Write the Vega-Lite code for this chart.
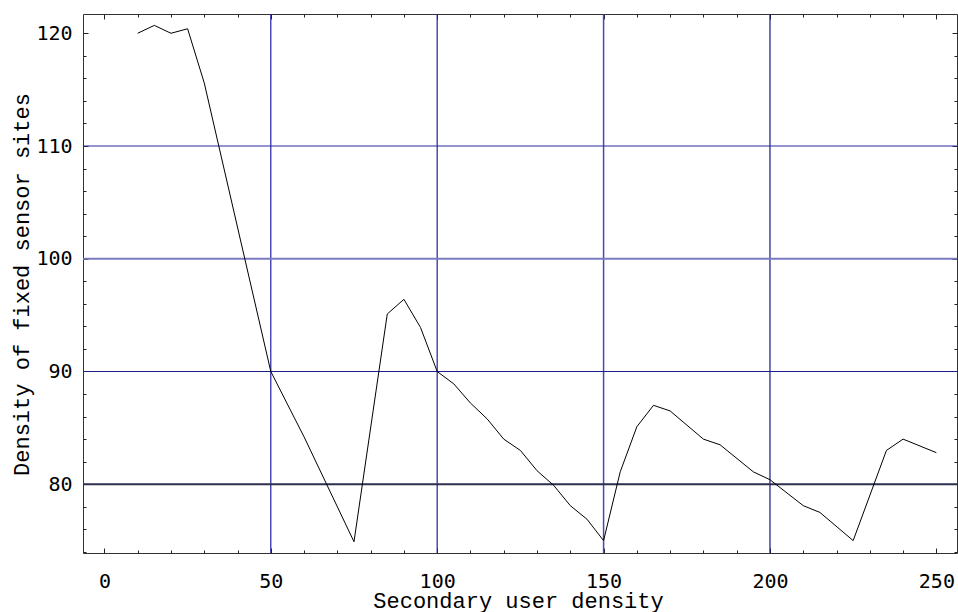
{
  "$schema": "https://vega.github.io/schema/vega-lite/v6.json",
  "width": 874,
  "height": 539,
  "autosize": {"type": "none"},
  "padding": {"left": 83, "top": 14, "right": 1, "bottom": 59},
  "background": "white",
  "config": {
    "view": {"stroke": "#333333", "strokeWidth": 1},
    "axis": {"domain": false, "grid": false, "tickColor": "#222222", "tickWidth": 1, "labelColor": "black", "titleColor": "black"}
  },
  "datasets": {
    "series": [
      {"x": 10, "y": 120.0}, {"x": 15, "y": 120.7}, {"x": 20, "y": 120.0}, {"x": 25, "y": 120.4},
      {"x": 30, "y": 115.6}, {"x": 50, "y": 90.0}, {"x": 60, "y": 84.2}, {"x": 75, "y": 74.9},
      {"x": 85, "y": 95.1}, {"x": 90, "y": 96.4}, {"x": 95, "y": 93.9}, {"x": 100, "y": 90.0},
      {"x": 105, "y": 88.9}, {"x": 110, "y": 87.2}, {"x": 115, "y": 85.8}, {"x": 120, "y": 84.0},
      {"x": 125, "y": 83.0}, {"x": 130, "y": 81.2}, {"x": 135, "y": 79.9}, {"x": 140, "y": 78.1},
      {"x": 145, "y": 76.9}, {"x": 150, "y": 75.0}, {"x": 155, "y": 81.1}, {"x": 160, "y": 85.1},
      {"x": 165, "y": 87.0}, {"x": 170, "y": 86.5}, {"x": 180, "y": 84.0}, {"x": 185, "y": 83.5},
      {"x": 195, "y": 81.1}, {"x": 200, "y": 80.4}, {"x": 210, "y": 78.1}, {"x": 215, "y": 77.5},
      {"x": 225, "y": 75.0}, {"x": 235, "y": 83.0}, {"x": 240, "y": 84.0}, {"x": 250, "y": 82.8}
    ],
    "vgrid": [{"x": 50}, {"x": 100}, {"x": 150}, {"x": 200}],
    "hgrid": [{"y": 110}, {"y": 100}, {"y": 90}, {"y": 80}]
  },
  "layer": [
    {
      "data": {"name": "vgrid"},
      "transform": [{"filter": "datum.x == 50 || datum.x == 100"}],
      "mark": {"type": "rule", "color": "#1f1fa0", "strokeWidth": 1.2},
      "encoding": {"x": {"field": "x", "type": "quantitative", "scale": {"domain": [-6.43, 256.2], "nice": false, "zero": false}, "axis": null}}
    },
    {
      "data": {"name": "vgrid"},
      "transform": [{"filter": "datum.x == 150"}],
      "mark": {"type": "rule", "color": "#4848b0", "strokeWidth": 1.5},
      "encoding": {"x": {"field": "x", "type": "quantitative", "scale": {"domain": [-6.43, 256.2], "nice": false, "zero": false}, "axis": null}}
    },
    {
      "data": {"name": "vgrid"},
      "transform": [{"filter": "datum.x == 200"}],
      "mark": {"type": "rule", "color": "#161680", "strokeWidth": 1.2},
      "encoding": {"x": {"field": "x", "type": "quantitative", "scale": {"domain": [-6.43, 256.2], "nice": false, "zero": false}, "axis": null}}
    },
    {
      "data": {"name": "hgrid"},
      "transform": [{"filter": "datum.y == 110"}],
      "mark": {"type": "rule", "color": "#2a2aa0", "strokeWidth": 1.2},
      "encoding": {"y": {"field": "y", "type": "quantitative", "scale": {"domain": [73.9, 121.71], "nice": false, "zero": false}, "axis": null}}
    },
    {
      "data": {"name": "hgrid"},
      "transform": [{"filter": "datum.y == 100"}],
      "mark": {"type": "rule", "color": "#7b7bc2", "strokeWidth": 2.2},
      "encoding": {"y": {"field": "y", "type": "quantitative", "scale": {"domain": [73.9, 121.71], "nice": false, "zero": false}, "axis": null}}
    },
    {
      "data": {"name": "hgrid"},
      "transform": [{"filter": "datum.y == 90"}],
      "mark": {"type": "rule", "color": "#1c1c90", "strokeWidth": 1.2},
      "encoding": {"y": {"field": "y", "type": "quantitative", "scale": {"domain": [73.9, 121.71], "nice": false, "zero": false}, "axis": null}}
    },
    {
      "data": {"name": "hgrid"},
      "transform": [{"filter": "datum.y == 80"}],
      "mark": {"type": "rule", "color": "#2e2e50", "strokeWidth": 2},
      "encoding": {"y": {"field": "y", "type": "quantitative", "scale": {"domain": [73.9, 121.71], "nice": false, "zero": false}, "axis": null}}
    },
    {
      "data": {"name": "series"},
      "mark": {"type": "line", "color": "black", "strokeWidth": 1},
      "encoding": {
        "x": {
          "field": "x", "type": "quantitative",
          "scale": {"domain": [-6.43, 256.2], "nice": false, "zero": false},
          "axis": {
            "orient": "bottom",
            "values": [0, 10, 20, 30, 40, 50, 60, 70, 80, 90, 100, 110, 120, 130, 140, 150, 160, 170, 180, 190, 200, 210, 220, 230, 240, 250],
            "tickSize": {"condition": {"test": "datum.value % 50 === 0", "value": -5}, "value": -3},
            "labelExpr": "datum.value % 50 === 0 ? datum.label : ''",
            "labelOverlap": false,
            "labelFlush": false,
            "labelFont": "DejaVu Sans Mono",
            "labelFontSize": 20,
            "labelPadding": 23,
            "title": "Secondary user density",
            "titleFont": "Liberation Mono",
            "titleFontSize": 22,
            "titleFontWeight": "normal",
            "titleBaseline": "alphabetic",
            "titleX": 435,
            "titleY": 54
          }
        },
        "y": {
          "field": "y", "type": "quantitative",
          "scale": {"domain": [73.9, 121.71], "nice": false, "zero": false},
          "axis": {
            "orient": "left",
            "values": [74, 76, 78, 80, 82, 84, 86, 88, 90, 92, 94, 96, 98, 100, 102, 104, 106, 108, 110, 112, 114, 116, 118, 120],
            "tickSize": {"condition": {"test": "datum.value % 10 === 0", "value": -5}, "value": -3},
            "labelExpr": "datum.value % 10 === 0 ? datum.label : ''",
            "labelOverlap": false,
            "labelFlush": false,
            "labelFont": "DejaVu Sans Mono",
            "labelFontSize": 20,
            "labelPadding": 16,
            "title": "Density of fixed sensor sites",
            "titleFont": "Liberation Mono",
            "titleFontSize": 22,
            "titleFontWeight": "normal",
            "titleAngle": -90,
            "titleBaseline": "alphabetic",
            "titleX": -54.5,
            "titleY": 270
          }
        }
      }
    },
    {
      "data": {"name": "series"},
      "mark": {"type": "line", "opacity": 0},
      "encoding": {
        "x": {
          "field": "x", "type": "quantitative",
          "scale": {"domain": [-6.43, 256.2], "nice": false, "zero": false},
          "axis": {
            "orient": "top",
            "values": [0, 10, 20, 30, 40, 50, 60, 70, 80, 90, 100, 110, 120, 130, 140, 150, 160, 170, 180, 190, 200, 210, 220, 230, 240, 250],
            "tickSize": {"condition": {"test": "datum.value % 50 === 0", "value": -5}, "value": -3},
            "labels": false,
            "title": null
          }
        },
        "y": {
          "field": "y", "type": "quantitative",
          "scale": {"domain": [73.9, 121.71], "nice": false, "zero": false},
          "axis": {
            "orient": "right",
            "values": [74, 76, 78, 80, 82, 84, 86, 88, 90, 92, 94, 96, 98, 100, 102, 104, 106, 108, 110, 112, 114, 116, 118, 120],
            "tickSize": {"condition": {"test": "datum.value % 10 === 0", "value": -5}, "value": -3},
            "labels": false,
            "title": null
          }
        }
      }
    }
  ],
  "resolve": {"axis": {"x": "independent", "y": "independent"}}
}
